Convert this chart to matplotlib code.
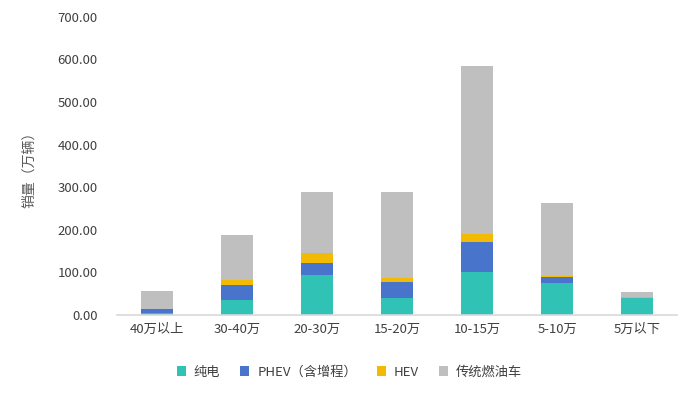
import matplotlib
matplotlib.use("Agg")
import matplotlib.pyplot as plt
import numpy as np

plt.rcParams["font.family"] = ["Noto Sans CJK SC", "DejaVu Sans"]

categories = ["40万以上", "30-40万", "20-30万", "15-20万", "10-15万", "5-10万", "5万以下"]
series_names = ["纯电", "PHEV（含增程）", "HEV", "传统燃油车"]
bev = [5, 35, 94, 40, 101, 75, 40]
phev = [9, 35, 28, 37, 70, 14, 1]
hev = [0.5, 13, 23, 11, 19, 2.5, 0.3]
ice = [43, 105, 144, 200, 395, 171, 12]

colors = ["#30C2B4", "#4874CB", "#F2BA02", "#BFBFBF"]

fig = plt.figure(figsize=(6.84, 3.93), dpi=100)
ax = fig.add_axes([0.171, 0.1985, 0.819, 0.7585])

x = np.arange(len(categories))
bottom = np.zeros(len(categories))
for name, vals, c in zip(series_names, [bev, phev, hev, ice], colors):
    ax.bar(x, vals, 0.4, bottom=bottom, color=c, label=name, zorder=2)
    bottom += np.array(vals)

ax.set_xlim(-0.5, len(categories) - 0.5)
ax.set_ylim(0, 700)
ax.set_yticks(np.arange(0, 701, 100))
ax.set_yticklabels([f"{v:.2f}" for v in np.arange(0, 701, 100)])
ax.set_xticks(x)
ax.set_xticklabels(categories)
ax.tick_params(axis="both", length=0, labelsize=9.5, labelcolor="#404040")
ax.tick_params(axis="y", pad=14)
ax.tick_params(axis="x", pad=6)

for s in ["top", "right", "left"]:
    ax.spines[s].set_visible(False)
ax.spines["bottom"].set_color("#D9D9D9")
ax.spines["bottom"].set_linewidth(1.2)

ax.set_ylabel("销量（万辆）", fontsize=10, color="#595959", labelpad=15)

ax.legend(loc="upper center", bbox_to_anchor=(0.415, -0.13), ncol=4, frameon=False,
          fontsize=9.5, handlelength=0.7, handleheight=0.7, columnspacing=1.5,
          handletextpad=0.6, labelcolor="#404040")

fig.savefig("out.png", dpi=100)
